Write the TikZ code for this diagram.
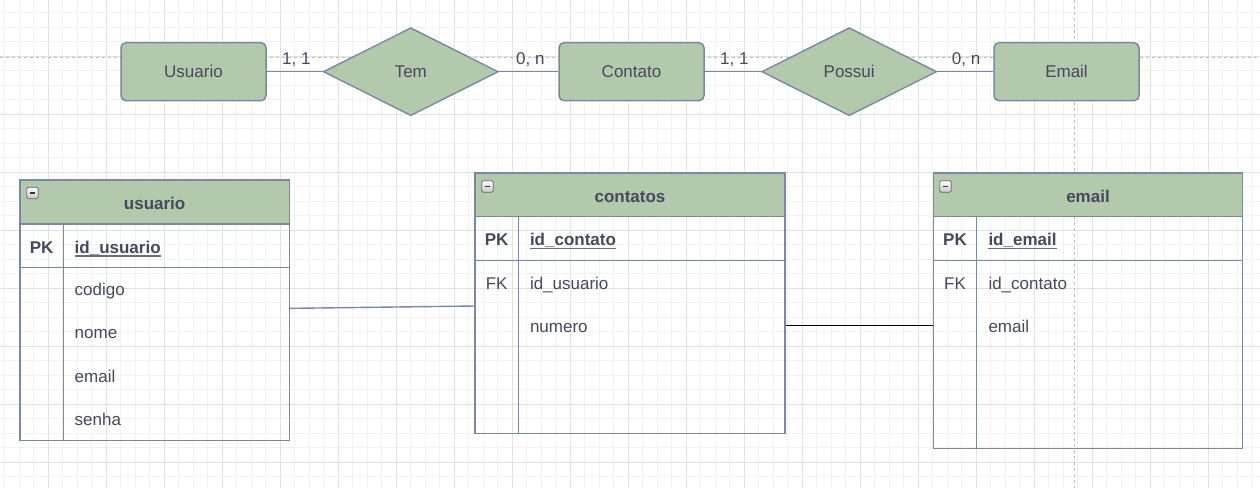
\documentclass[tikz,border=0pt]{standalone}
\usepackage{fontspec}
\setmainfont{Liberation Sans}
\usetikzlibrary{shapes.geometric}
\definecolor{sage}{HTML}{B2C9AB}
\definecolor{sagestroke}{HTML}{788AA3}
\definecolor{sagetext}{HTML}{46495D}
\definecolor{gridminor}{HTML}{F2F2F2}
\definecolor{gridmajor}{HTML}{E2E2E2}
\definecolor{pagebreak}{HTML}{BDBDBD}
\begin{document}
\begin{tikzpicture}[x=1pt,y=-1pt,
  every node/.style={font=\fontsize{17}{20}\selectfont, text=sagetext},
  entity/.style={draw=sagestroke, fill=sage, line width=1.5pt, rounded corners=5pt, minimum width=145pt, minimum height=58pt, inner sep=0pt, text height=12.2pt, text depth=-2.6pt},
  relation/.style={diamond, draw=sagestroke, fill=sage, line width=1.4pt, minimum width=175pt, minimum height=88pt, inner sep=0pt, text height=12.2pt, text depth=-2.6pt},
  conn/.style={draw=sagestroke, line width=1.4pt},
  fkconn/.style={draw=black, line width=1.4pt},
  card/.style={inner sep=0pt, anchor=base west},
  tbl/.style={rectangle, draw=sagestroke, line width=1.5pt, inner sep=0pt},
  tline/.style={draw=sagestroke, line width=1.5pt},
  hdr/.style={fill=sage},
  ttl/.style={font=\fontsize{17}{20}\selectfont\bfseries, inner sep=0pt, anchor=base},
  keytxt/.style={font=\fontsize{17}{20}\selectfont\bfseries, inner sep=0pt, anchor=base},
  fktxt/.style={inner sep=0pt, anchor=base},
  pkfld/.style={font=\fontsize{17}{20}\selectfont\bfseries, inner sep=0pt, anchor=base west},
  fld/.style={inner sep=0pt, anchor=base west},
  uline/.style={draw=sagetext!80, line width=1.2pt},
  icon/.style={draw=gray!80!black, line width=0.8pt, rounded corners=1.5pt, top color=white, bottom color=gray!45},
  iconbar/.style={draw=black!80, line width=1.6pt},
  gminor/.style={draw=gridminor, line width=0.8pt},
  gmajor/.style={draw=gridmajor, line width=0.8pt},
  pbreak/.style={draw=pagebreak, line width=0.8pt, dash pattern=on 3pt off 3pt}
]
\useasboundingbox (0,0) rectangle (1260,488);
\fill[white] (0,0) rectangle (1260,488);
% grid
\draw[gminor] \foreach \i in {0,...,86} {(4.8+14.5*\i,0) -- (4.8+14.5*\i,488)};
\draw[gminor] \foreach \i in {0,...,32} {(0,12.8+14.5*\i) -- (1260,12.8+14.5*\i)};
\draw[gmajor] \foreach \i in {1,...,21} {(-9.7+58*\i,0) -- (-9.7+58*\i,488)};
\draw[gmajor] \foreach \i in {1,...,8} {(0,-1.7+58*\i) -- (1260,-1.7+58*\i)};
% page breaks
\draw[pbreak] (0,57) -- (1260,57);
\draw[pbreak] (1074.3,0) -- (1074.3,488);

% conceptual model
\node[entity] (eusr) at (193.5,71.7) {Usuario};
\node[relation] (rtem) at (410.8,71.7) {Tem};
\node[entity] (econ) at (631.5,71.7) {Contato};
\node[relation] (rpos) at (849.2,71.7) {Possui};
\node[entity] (eem) at (1066.5,71.7) {Email};
\draw[conn] (eusr.east) -- (rtem.west);
\draw[conn] (rtem.east) -- (econ.west);
\draw[conn] (econ.east) -- (rpos.west);
\draw[conn] (rpos.east) -- (eem.west);
\node[card] (c1) at (282,64.3) {1, 1};
\node[card] (c2) at (516,64.3) {0, n};
\node[card] (c3) at (720,64.3) {1, 1};
\node[card] (c4) at (951.7,64.3) {0, n};

% table usuario
\fill[hdr] (20,180) rectangle (289.3,224);
\draw[tline] (20,224) -- (289.3,224) (20,267.3) -- (289.3,267.3) (63.3,224) -- (63.3,440.7);
\node[tbl, minimum width=269.3pt, minimum height=260.7pt] (tusr) at (154.65,310.35) {};
\node[ttl] (usrT) at (154.65,209.3) {usuario};
\node[keytxt] (usrPK) at (41.65,253.3) {PK};
\node[pkfld] (usrId) at (74.5,253.3) {id\_usuario};
\draw[uline] ([yshift=-2.6pt]usrId.base west) -- ([yshift=-2.6pt]usrId.base east);
\node[fld] (usrF1) at (74.5,295) {codigo};
\node[fld] (usrF2) at (74.5,338.6) {nome};
\node[fld] (usrF3) at (74.5,382.2) {email};
\node[fld] (usrF4) at (74.5,425.8) {senha};

% table contatos
\fill[hdr] (475,173) rectangle (785,216.7);
\draw[tline] (475,216.7) -- (785,216.7) (475,260.3) -- (785,260.3) (518.3,216.7) -- (518.3,433.7);
\node[tbl, minimum width=310pt, minimum height=260.7pt] (tcon) at (630,303.35) {};
\node[ttl] (conT) at (630,202.3) {contatos};
\node[keytxt] (conPK) at (496.65,245.7) {PK};
\node[pkfld] (conId) at (529.8,245.7) {id\_contato};
\draw[uline] ([yshift=-2.6pt]conId.base west) -- ([yshift=-2.6pt]conId.base east);
\node[fktxt] (conFK) at (496.65,289) {FK};
\node[fld] (conF1) at (529.8,289) {id\_usuario};
\node[fld] (conF2) at (529.8,332.6) {numero};

% table email
\fill[hdr] (933.3,173) rectangle (1242.7,216.7);
\draw[tline] (933.3,216.7) -- (1242.7,216.7) (933.3,260.3) -- (1242.7,260.3) (976.7,216.7) -- (976.7,448.3);
\node[tbl, minimum width=309.4pt, minimum height=275.3pt] (tem) at (1088,310.65) {};
\node[ttl] (emT) at (1088,202.3) {email};
\node[keytxt] (emPK) at (955,245.7) {PK};
\node[pkfld] (emId) at (988.3,245.7) {id\_email};
\draw[uline] ([yshift=-2.6pt]emId.base west) -- ([yshift=-2.6pt]emId.base east);
\node[fktxt] (emFK) at (955,289) {FK};
\node[fld] (emF1) at (988.3,289) {id\_contato};
\node[fld] (emF2) at (988.3,332.6) {email};

% collapse icons
\foreach \x/\y in {26.7/187.3, 481.7/180.7, 939.7/180.7} {
  \draw[icon] (\x,\y) rectangle ++(11.5,11.5);
  \draw[iconbar] (\x+3,\y+5.75) -- (\x+8.5,\y+5.75);
}

% table connectors
\coordinate (numrow) at (630,325.7);
\draw[conn] ([yshift=2pt]tusr.east) -- ([yshift=-2.65pt]tcon.west);
\draw[fkconn] (tcon.east |- numrow) -- (tem.west |- numrow);
\end{tikzpicture}
\end{document}
